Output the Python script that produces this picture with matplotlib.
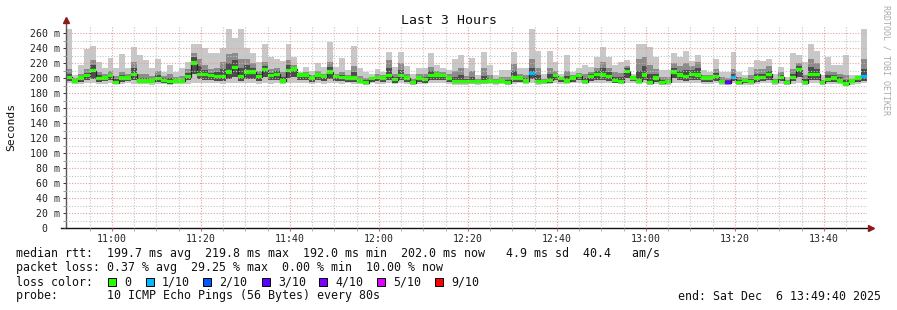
import numpy as np
import matplotlib
matplotlib.use("Agg")
import matplotlib.pyplot as plt
from matplotlib.patches import Rectangle

plt.rcParams['font.family'] = ['DejaVu Sans Mono', 'DejaVu Sans']

# window start 10:49:40, in minutes since midnight; one bin = 80 s
t_start = 10 * 60 + 49 + 40 / 60
step_min = 80 / 60

# median rtt per bin (ms)
rtt_median = [
    201, 196, 200, 203, 210, 199, 200, 203, 194, 200, 200, 205, 196, 196, 196,
    199, 197, 195, 196, 196, 202, 220, 205, 205, 203, 202, 202, 208, 214, 202,
    208, 208, 202, 211, 203, 205, 196, 210, 212, 204, 204, 200, 204, 202, 208,
    202, 201, 200, 200, 196, 194, 199, 201, 200, 203, 198, 203, 200, 194, 200,
    198, 203, 204, 203, 200, 195, 195, 195, 195, 195, 195, 196, 195, 196, 194,
    200, 200, 196, 206, 195, 195, 197, 203, 199, 196, 200, 203, 195, 202, 205,
    204, 202, 197, 195, 209, 200, 196, 204, 194, 200, 194, 195, 208, 204, 202,
    205, 204, 200, 200, 202, 195, 194, 201, 194, 197, 195, 200, 201, 205, 195,
    201, 194, 201, 211, 194, 205, 205, 194, 198, 200, 196, 192, 196, 200, 202,
]
# slowest ping per bin
rtt_max = [
    265, 204, 217, 239, 243, 222, 213, 227, 213, 232, 213, 241, 231, 224, 213,
    226, 208, 218, 208, 213, 222, 246, 246, 240, 234, 234, 240, 266, 254, 266,
    240, 233, 221, 245, 228, 226, 223, 246, 228, 208, 215, 210, 220, 215, 248,
    215, 227, 211, 243, 214, 208, 205, 212, 208, 235, 215, 235, 216, 205, 213,
    214, 233, 217, 213, 211, 226, 231, 213, 227, 204, 235, 217, 204, 211, 211,
    235, 213, 213, 266, 236, 205, 236, 221, 205, 231, 208, 214, 218, 215, 228,
    242, 228, 217, 221, 224, 206, 246, 246, 242, 228, 211, 211, 234, 228, 236,
    223, 231, 211, 208, 226, 208, 208, 235, 208, 204, 215, 224, 223, 226, 205,
    215, 202, 233, 231, 221, 245, 236, 204, 228, 218, 218, 231, 204, 204, 266,
]
# fastest ping per bin
rtt_min = [
    193, 192, 192, 193, 193, 192, 192, 193, 192, 192, 193, 192, 192, 192, 191,
    192, 192, 191, 192, 192, 192, 193, 194, 194, 193, 193, 192, 193, 194, 193,
    194, 193, 192, 193, 192, 193, 192, 193, 194, 193, 193, 192, 193, 192, 194,
    193, 192, 193, 192, 192, 191, 193, 192, 192, 193, 192, 193, 192, 191, 192,
    192, 193, 193, 193, 192, 191, 191, 191, 192, 191, 192, 192, 191, 192, 191,
    192, 193, 192, 193, 191, 192, 192, 193, 192, 192, 193, 193, 192, 193, 193,
    193, 193, 193, 192, 193, 193, 192, 193, 191, 192, 191, 191, 193, 193, 193,
    193, 193, 192, 192, 193, 191, 191, 193, 191, 191, 191, 192, 193, 193, 191,
    192, 191, 192, 193, 191, 193, 193, 191, 192, 192, 192, 191, 191, 192, 193,
]
# inner smoke: lower edge, top of the dark core, top of the mid band
smoke_lo = [
    196, 193, 195, 197, 199, 195, 196, 197, 192, 195, 196, 198, 193, 193, 193,
    195, 194, 192, 193, 193, 197, 205, 199, 198, 197, 196, 196, 199, 202, 196,
    199, 199, 196, 201, 197, 198, 193, 200, 202, 198, 198, 195, 198, 196, 199,
    196, 196, 195, 195, 193, 192, 195, 196, 195, 197, 194, 197, 195, 192, 195,
    194, 197, 198, 197, 195, 193, 193, 193, 193, 193, 193, 193, 193, 193, 192,
    195, 195, 193, 199, 193, 193, 194, 197, 195, 193, 195, 197, 193, 196, 198,
    197, 196, 194, 193, 200, 196, 193, 198, 192, 195, 192, 193, 200, 198, 196,
    198, 197, 195, 195, 196, 193, 192, 196, 192, 194, 193, 195, 196, 198, 193,
    196, 192, 196, 202, 192, 198, 198, 192, 195, 195, 193, 191, 193, 195, 196,
]
smoke_core = [
    206, 198, 203, 207, 218, 204, 203, 206, 199, 204, 203, 214, 200, 200, 199,
    204, 200, 200, 198, 199, 207, 228, 216, 211, 207, 208, 212, 220, 224, 214,
    217, 214, 206, 216, 207, 209, 202, 217, 215, 205, 206, 202, 207, 204, 215,
    204, 204, 202, 208, 199, 197, 200, 203, 202, 213, 202, 211, 203, 196, 203,
    202, 209, 207, 205, 202, 201, 204, 199, 202, 197, 203, 200, 197, 199, 197,
    209, 203, 200, 214, 204, 197, 205, 206, 200, 203, 202, 205, 200, 205, 209,
    213, 208, 202, 201, 213, 201, 210, 216, 206, 206, 198, 198, 214, 210, 211,
    211, 213, 202, 202, 207, 198, 197, 206, 197, 198, 199, 206, 206, 210, 197,
    204, 196, 206, 216, 199, 215, 212, 196, 204, 204, 201, 198, 197, 201, 212,
]
smoke_mid = [
    212, 200, 206, 212, 224, 208, 205, 210, 203, 208, 206, 222, 205, 205, 203,
    209, 203, 205, 201, 203, 212, 234, 226, 218, 212, 214, 222, 232, 234, 226,
    226, 220, 210, 222, 212, 214, 208, 224, 218, 206, 208, 204, 210, 206, 222,
    206, 208, 204, 216, 203, 200, 201, 206, 204, 224, 206, 220, 206, 199, 206,
    206, 215, 210, 208, 205, 209, 214, 203, 210, 199, 213, 204, 199, 202, 201,
    219, 206, 204, 226, 214, 199, 214, 210, 202, 210, 204, 207, 206, 208, 214,
    222, 214, 208, 207, 216, 203, 226, 228, 218, 212, 202, 202, 220, 216, 220,
    216, 222, 204, 204, 212, 202, 200, 212, 201, 200, 204, 212, 212, 216, 199,
    208, 198, 212, 220, 204, 226, 220, 198, 210, 208, 206, 204, 199, 202, 226,
]
# lost pings out of 10 per bin
loss = [
    0, 0, 0, 0, 0, 0, 0, 0, 0, 0, 0, 0, 0, 0, 0,
    0, 0, 0, 0, 0, 0, 0, 0, 0, 0, 0, 0, 0, 0, 0,
    0, 0, 0, 0, 0, 0, 0, 0, 0, 0, 0, 0, 0, 0, 0,
    0, 0, 0, 0, 0, 0, 0, 0, 0, 0, 0, 0, 0, 0, 0,
    0, 0, 0, 0, 0, 0, 0, 0, 0, 0, 0, 0, 0, 0, 0,
    0, 0, 0, 1, 0, 0, 0, 0, 0, 0, 0, 0, 0, 0, 0,
    0, 0, 0, 0, 0, 0, 0, 0, 0, 0, 0, 0, 0, 0, 0,
    0, 0, 0, 0, 0, 0, 3, 1, 0, 0, 0, 0, 0, 0, 0,
    0, 0, 0, 0, 0, 0, 0, 0, 0, 0, 0, 0, 0, 0, 1,
]

loss_levels = [0, 1, 2, 3, 4, 5, 9]
loss_labels = ["0", "1/10", "2/10", "3/10", "4/10", "5/10", "9/10"]
loss_colors = ["#26ff00", "#00b8ff", "#0059ff", "#5e00ff", "#7e00ff", "#dd00ff", "#ff0000"]

y_ticks = list(range(0, 261, 20))
y_tick_labels = ["0  "] + ["%d m" % v for v in y_ticks[1:]]
x_ticks = [660, 680, 700, 720, 740, 760, 780, 800, 820]
x_tick_labels = ["11:00", "11:20", "11:40", "12:00", "12:20", "12:40", "13:00", "13:20", "13:40"]

legend_rows = [
    "median rtt:  199.7 ms avg  219.8 ms max  192.0 ms min  202.0 ms now   4.9 ms sd  40.4   am/s",
    "packet loss: 0.37 % avg  29.25 % max  0.00 % min  10.00 % now",
]
probe_text = "probe:       10 ICMP Echo Pings (56 Bytes) every 80s"
end_text = "end: Sat Dec  6 13:49:40 2025"

W, H = 897, 310


def fx(px):
    return px / W


def fy(py):
    return 1 - py / H


fig = plt.figure(figsize=(W / 100, H / 100), dpi=100)
fig.patch.set_facecolor("white")
ax = fig.add_axes([fx(66), fy(228), 801 / W, (228 - 25.5) / H])

n = len(rtt_median)
edges = t_start + step_min * np.arange(n + 1)


def ext(v):
    return np.append(v, v[-1])


# smoke
ax.fill_between(edges, ext(rtt_min), ext(rtt_max), step="post", color="#c8c8c8", lw=0)
ax.fill_between(edges, ext(smoke_lo), ext(smoke_mid), step="post", color="#8c8c8c", lw=0)
ax.fill_between(edges, ext(smoke_lo), ext(smoke_core), step="post", color="#4c4c4c", lw=0)
ax.step(edges, ext(rtt_median), where="post", color="#202020", lw=0.9)

# median bars coloured by loss
med = np.array(rtt_median, dtype=float)
bar_colors = [loss_colors[loss_levels.index(l)] for l in loss]
ax.bar(edges[:-1], 4.2, bottom=med - 2.1, width=step_min, align="edge",
       color=bar_colors, edgecolor=bar_colors, lw=0.2, zorder=2)

ax.set_xlim(edges[0], edges[-1])
ax.set_ylim(0, 270)

# grid
ax.set_xticks(x_ticks)
ax.set_xticklabels(x_tick_labels)
ax.set_xticks(np.arange(655, 830, 5), minor=True)
ax.set_yticks(y_ticks)
ax.set_yticklabels(y_tick_labels)
ax.set_yticks(range(10, 270, 20), minor=True)
ax.grid(which="major", color="#e3a1a1", lw=0.8, linestyle=(0, (1, 1.5)))
ax.grid(which="minor", color="#c4c4c4", lw=0.8, linestyle=(0, (1, 1.5)))
ax.set_axisbelow(False)

ax.tick_params(axis="both", which="both", labelsize=7.1, direction="out")
ax.tick_params(axis="y", which="major", length=2.2, width=0.7, pad=2.0, colors="#333333")
ax.tick_params(axis="y", which="minor", length=2.2, width=0.7, color="#999999")
ax.tick_params(axis="x", which="major", length=1.8, width=0.8, pad=2.8, color="#d06060",
               labelcolor="#222222")
ax.tick_params(axis="x", which="minor", length=1.8, width=0.7, color="#aaaaaa")
for lab in ax.get_yticklabels():
    lab.set_color("#222222")

for s in ax.spines.values():
    s.set_visible(False)

# axis lines with arrows
ax.plot([0, 0], [0, 1.02], transform=ax.transAxes, color="#555555", lw=1.0, clip_on=False)
ax.plot([-5 / 801, 1.003], [0, 0], transform=ax.transAxes, color="#111111", lw=1.0, clip_on=False)
ax.plot([0], [1.027], transform=ax.transAxes, marker="^", ms=4.5, color="#8b1a1a",
        clip_on=False, mec="#8b1a1a")
ax.plot([1.0055], [0], transform=ax.transAxes, marker=">", ms=4.5, color="#8b1a1a",
        clip_on=False, mec="#8b1a1a")

# titles
fig.text(fx(449), fy(20), "Last 3 Hours", ha="center", va="center", fontsize=9.5, color="#111111")
fig.text(fx(11), fy(127), "Seconds", ha="center", va="center", rotation=90, fontsize=8.2,
         color="#111111")
fig.text(fx(886), fy(5), "RRDTOOL / TOBI OETIKER", ha="center", va="top", rotation=270,
         fontsize=6.0, color="#aaaaaa")

# legend
leg_fs = 8.35
fig.text(fx(16), fy(254), legend_rows[0], ha="left", va="center", fontsize=leg_fs, color="#111111")
fig.text(fx(16), fy(268), legend_rows[1], ha="left", va="center", fontsize=leg_fs, color="#111111")
fig.text(fx(16), fy(282), "loss color:", ha="left", va="center", fontsize=leg_fs, color="#111111")
sq_x = [108, 146, 203, 262, 319, 377, 435]
for x, lab, c in zip(sq_x, loss_labels, loss_colors):
    fig.add_artist(Rectangle((fx(x), fy(286)), 8 / W, 8 / H, transform=fig.transFigure,
                             facecolor=c, edgecolor="black", lw=0.7))
    fig.text(fx(x + 16), fy(282), lab, ha="left", va="center", fontsize=leg_fs, color="#111111")
fig.text(fx(16), fy(296), probe_text, ha="left", va="center", fontsize=leg_fs, color="#111111")
fig.text(fx(881), fy(296), end_text, ha="right", va="center", fontsize=leg_fs, color="#111111")

fig.savefig("out.png", dpi=100)
